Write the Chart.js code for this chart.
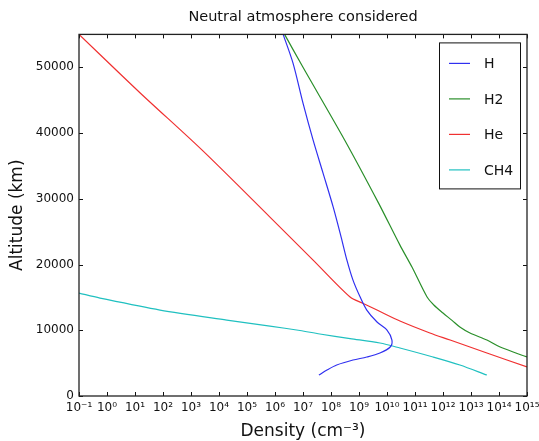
<!DOCTYPE html>
<html><head><meta charset="utf-8">
<script src="https://cdn.jsdelivr.net/npm/chart.js@4/dist/chart.umd.min.js"></script>
<style>html,body{margin:0;padding:0;background:#fff}#wrap{width:539px;height:441px;position:relative}</style>
</head><body><div id="wrap"><canvas id="c" width="539" height="441"></canvas></div>
<script>
const chartTitle = 'Neutral atmosphere considered';
const xAxisTitle = 'Density (cm⁻³)';
const yAxisTitle = 'Altitude (km)';
const xTickValues = [1e-1,1e0,1e1,1e2,1e3,1e4,1e5,1e6,1e7,1e8,1e9,1e10,1e11,1e12,1e13,1e14,1e15];
const xTickLabels = ['10⁻¹','10⁰','10¹','10²','10³','10⁴','10⁵','10⁶','10⁷','10⁸','10⁹','10¹⁰','10¹¹','10¹²','10¹³','10¹⁴','10¹⁵'];
const yTickValues = [0,10000,20000,30000,40000,50000];
const yTickLabels = ['0','10000','20000','30000','40000','50000'];
const seriesNames = ['H','H2','He','CH4'];
const seriesColors = ['#3030f0','#2a8f2a','#f03030','#20c0c0'];

const hAltitude = [3190,3950,4710,5470,5930,6540,7450,8510,10030,11250,13070,15050,17630,20670,24170,28730,33900,38910,44540,50620,55000];
const hDensity  = [3.7e7,7.2e7,1.6e8,6.1e8,1.9e9,5.6e9,1.3e10,1.5e10,1.0e10,4.4e9,1.9e9,1.1e9,6.1e8,3.7e8,2.3e8,1.2e8,5.2e7,2.3e7,1.0e7,4.4e6,1.95e6];

const h2Altitude = [5930,7450,8510,9580,10490,11500,12620,13800,15050,19610,22950,29340,38910,50000,55000];
const h2Density  = [1e15,1.1e14,3.7e13,9.2e12,4.0e12,2.1e12,1.0e12,4.8e11,2.7e11,7.8e10,2.9e10,5.0e9,3.1e8,1.0e7,2.2e6];

const heAltitude = [4410,6540,8510,9580,11400,13070,14140,15050,20670,27210,37390,46130,55000];
const heDensity  = [1e15,3.7e13,1.8e12,3.4e11,2.9e10,4.4e9,1.3e9,4.8e8,2.3e7,6.6e5,2.5e3,15,0.1];

const ch4Altitude = [3190,4710,5930,7300,8060,8740,9430,9960,10640,11550,13070,14900,15650];
const ch4Density  = [3.7e13,4.0e12,4.4e11,2.9e10,5.6e9,4.8e8,4.0e7,7.8e6,6.6e5,1.9e4,78,0.56,0.1];

const seriesData = [[hDensity,hAltitude],[h2Density,h2Altitude],[heDensity,heAltitude],[ch4Density,ch4Altitude]];

const FONT = 'DejaVu Sans';

const framePlugin = {
  id: 'frame',
  afterDatasetsDraw(chart) {
    const {ctx, chartArea: a, scales: {x, y}} = chart;
    ctx.save();
    ctx.strokeStyle = '#111';
    ctx.lineWidth = 1;
    ctx.beginPath();
    xTickValues.forEach(v => {
      const px = Math.round(x.getPixelForValue(v)) + 0.5;
      ctx.moveTo(px, a.bottom); ctx.lineTo(px, a.bottom - 4);
      ctx.moveTo(px, a.top); ctx.lineTo(px, a.top + 4);
    });
    yTickValues.forEach(v => {
      const py = Math.round(y.getPixelForValue(v)) + 0.5;
      ctx.moveTo(a.left, py); ctx.lineTo(a.left + 4, py);
      ctx.moveTo(a.right, py); ctx.lineTo(a.right - 4, py);
    });
    ctx.stroke();
    ctx.lineWidth = 1.3;
    ctx.strokeStyle = '#222';
    ctx.strokeRect(a.left, a.top, a.right - a.left, a.bottom - a.top);

    // legend
    const lx = a.right - 88, ly = a.top + 8, lw = 81, lh = 146;
    ctx.fillStyle = '#fff';
    ctx.fillRect(lx, ly, lw, lh);
    ctx.lineWidth = 1;
    ctx.strokeStyle = '#111';
    ctx.strokeRect(lx + 0.5, ly + 0.5, lw, lh);
    ctx.font = '14px "' + FONT + '"';
    ctx.textBaseline = 'middle';
    ctx.textAlign = 'left';
    chart.data.datasets.forEach((ds, i) => {
      const yy = ly + 21 + i * 35.5;
      ctx.strokeStyle = ds.borderColor;
      ctx.lineWidth = 1.2;
      ctx.beginPath();
      ctx.moveTo(lx + 10, yy); ctx.lineTo(lx + 31, yy);
      ctx.stroke();
      ctx.fillStyle = '#111';
      ctx.fillText(ds.label, lx + 45, yy + 1);
    });
    ctx.restore();
  }
};

new Chart(document.getElementById('c'), {
  type: 'scatter',
  data: {
    datasets: seriesNames.map((name, i) => ({
      label: name,
      data: seriesData[i][0].map((d, j) => ({x: d, y: seriesData[i][1][j]})),
      borderColor: seriesColors[i],
      backgroundColor: seriesColors[i],
      borderWidth: 1.2,
      showLine: true,
      pointRadius: 0,
      tension: 0.3
    }))
  },
  options: {
    responsive: false,
    animation: false,
    devicePixelRatio: 1,
    layout: {padding: {left: 0, right: 12, top: 0, bottom: 0}},
    plugins: {
      legend: {display: false},
      tooltip: {enabled: false},
      title: {
        display: true, text: chartTitle, color: '#111', fullSize: false,
        font: {family: FONT, size: 14.5, weight: 'normal'},
        padding: {top: 9, bottom: 8}
      }
    },
    scales: {
      x: {
        type: 'logarithmic', min: 0.1, max: 1e15,
        grid: {display: false, drawTicks: false},
        border: {display: false},
        afterBuildTicks: s => { s.ticks = xTickValues.map(v => ({value: v})); },
        afterFit: s => { s.height = 45; s.paddingLeft = 0; s.paddingRight = 0; },
        ticks: {
          autoSkip: false, maxRotation: 0, minRotation: 0, padding: 5, color: '#111',
          font: {family: FONT, size: 12},
          callback: (v, i) => xTickLabels[i]
        },
        title: {display: true, text: xAxisTitle, color: '#111', font: {family: FONT, size: 17}, padding: {top: 0, bottom: -1}}
      },
      y: {
        type: 'linear', min: 0, max: 55000,
        grid: {display: false, drawTicks: false},
        border: {display: false},
        afterBuildTicks: s => { s.ticks = yTickValues.map(v => ({value: v})); },
        afterFit: s => { s.width = 79; s.paddingTop = 0; s.paddingBottom = 0; },
        ticks: {
          padding: 5, color: '#111',
          font: {family: FONT, size: 12},
          callback: (v, i) => yTickLabels[i]
        },
        title: {display: true, text: yAxisTitle, color: '#111', font: {family: FONT, size: 17}, padding: {top: 7, bottom: 0}}
      }
    }
  },
  plugins: [framePlugin]
});
</script>
</body></html>
